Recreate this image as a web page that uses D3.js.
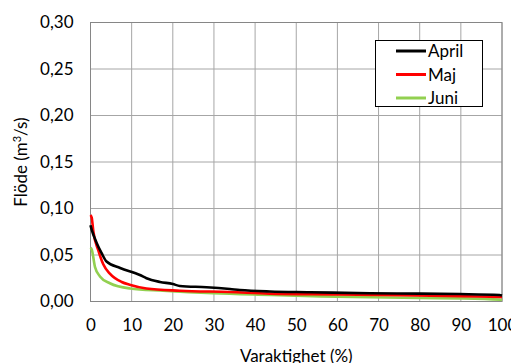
<!DOCTYPE html>
<html>
<head>
<meta charset="utf-8">
<script src="https://cdn.jsdelivr.net/npm/d3@7"></script>
<style>
  html, body { margin: 0; padding: 0; background: #fff; }
  svg { display: block; }
  text { font-family: Lato, "Open Sans", "Liberation Sans", sans-serif; fill: #000; }
</style>
</head>
<body>
<svg id="chart" width="511" height="363"></svg>
<script>
// Duration curves (flow vs. percentage of time exceeded), per month
const aprilPct = [0, 0.3, 1.5, 2.7, 3.9, 7.2, 12, 13.6, 16.9, 20, 21.7, 28.2, 33.9, 36.3, 43.6, 53.3, 67.9, 80, 89.7, 99.4, 100];
const aprilFlow = [0.082, 0.077, 0.063, 0.052, 0.043, 0.036, 0.0285, 0.025, 0.021, 0.0188, 0.0167, 0.0153, 0.0134, 0.0124, 0.0108, 0.0100, 0.0088, 0.0085, 0.008, 0.007, 0.0065];

const majPct = [0, 0.3, 0.7, 1.9, 3.1, 4.7, 7.6, 9.5, 13.6, 21.7, 33.9, 43.6, 60, 75, 86.5, 100];
const majFlow = [0.093, 0.090, 0.075, 0.055, 0.040, 0.030, 0.021, 0.018, 0.014, 0.0116, 0.0102, 0.0085, 0.0077, 0.0068, 0.006, 0.005];

const juniPct = [0, 0.3, 1.1, 2.3, 4.7, 9.6, 17.6, 29.8, 43.6, 56, 67.9, 80, 90, 99.5, 100];
const juniFlow = [0.058, 0.056, 0.037, 0.027, 0.0196, 0.014, 0.0116, 0.0088, 0.007, 0.0055, 0.0045, 0.0038, 0.0034, 0.002, 0.0015];

const seriesNames = ["April", "Maj", "Juni"];
const seriesColors = ["#000000", "#FF0000", "#92D050"];

const xTicks = [0, 10, 20, 30, 40, 50, 60, 70, 80, 90, 100];
const yTicks = [0, 0.05, 0.10, 0.15, 0.20, 0.25, 0.30];

const xTitle = "Varaktighet (%)";

const svg = d3.select("#chart");
const margin = { left: 90.5, right: 9, top: 22.5, bottom: 61.5 };
const W = 511, H = 363;
const FS = "17px";

const x = d3.scaleLinear().domain([0, 100]).range([margin.left, W - margin.right]);
const y = d3.scaleLinear().domain([0, 0.30]).range([H - margin.bottom, margin.top]);

const fmt = v => d3.format(".2f")(v).replace(".", ",");

// gridlines
svg.append("g")
  .selectAll("line")
  .data(yTicks)
  .join("line")
  .attr("x1", x(0)).attr("x2", x(100))
  .attr("y1", d => y(d)).attr("y2", d => y(d))
  .attr("stroke", "#A6A6A6").attr("stroke-width", 1);

svg.append("g")
  .selectAll("line")
  .data(xTicks)
  .join("line")
  .attr("x1", d => x(d)).attr("x2", d => x(d))
  .attr("y1", y(0)).attr("y2", y(0.30))
  .attr("stroke", "#A6A6A6").attr("stroke-width", 1);

// plot frame
svg.append("rect")
  .attr("x", x(0)).attr("y", y(0.30))
  .attr("width", x(100) - x(0)).attr("height", y(0) - y(0.30))
  .attr("fill", "none").attr("stroke", "#868686").attr("stroke-width", 1);

// axes (labels only; lines drawn by the frame)
const yAxis = d3.axisLeft(y).tickValues(yTicks).tickFormat(fmt).tickSize(0).tickPadding(17);
const gy = svg.append("g").attr("transform", `translate(${x(0)},0)`).call(yAxis);
gy.select(".domain").remove();
gy.selectAll("text").style("font-size", FS).style("font-family", "Lato, 'Open Sans', sans-serif");

const xAxis = d3.axisBottom(x).tickValues(xTicks).tickFormat(d3.format("d")).tickSize(0).tickPadding(17);
const gx = svg.append("g").attr("transform", `translate(0,${y(0)})`).call(xAxis);
gx.select(".domain").remove();
gx.selectAll("text").style("font-size", FS).style("font-family", "Lato, 'Open Sans', sans-serif");

// axis titles
svg.append("text")
  .attr("x", (x(0) + x(100)) / 2).attr("y", 361.5)
  .attr("text-anchor", "middle")
  .style("font-size", FS)
  .text(xTitle);

const yt = svg.append("text")
  .attr("transform", `translate(27,${(y(0) + y(0.30)) / 2}) rotate(-90)`)
  .attr("text-anchor", "middle")
  .style("font-size", FS);
yt.append("tspan").text("Flöde (m");
yt.append("tspan").attr("dy", -6).style("font-size", "11px").text("3");
yt.append("tspan").attr("dy", 6).text("/s)");

// curves
const series = [
  { name: seriesNames[0], color: seriesColors[0], pct: aprilPct, flow: aprilFlow },
  { name: seriesNames[1], color: seriesColors[1], pct: majPct, flow: majFlow },
  { name: seriesNames[2], color: seriesColors[2], pct: juniPct, flow: juniFlow }
];

const line = d3.line().x(d => x(d[0])).y(d => y(d[1])).curve(d3.curveMonotoneX);

// green first, then red, then black on top
[2, 1, 0].forEach(i => {
  const s = series[i];
  svg.append("path")
    .datum(s.pct.map((p, k) => [p, s.flow[k]]))
    .attr("d", line)
    .attr("fill", "none")
    .attr("stroke", s.color)
    .attr("stroke-width", 2.6)
    .attr("stroke-linejoin", "round");
});

// legend
const lg = svg.append("g");
lg.append("rect")
  .attr("x", 375.5).attr("y", 40.5).attr("width", 107).attr("height", 66)
  .attr("fill", "#fff").attr("stroke", "#000").attr("stroke-width", 1);

series.forEach((s, i) => {
  const cy = 51 + i * 23.5;
  lg.append("line")
    .attr("x1", 396).attr("x2", 426)
    .attr("y1", cy).attr("y2", cy)
    .attr("stroke", s.color).attr("stroke-width", 3);
  lg.append("text")
    .attr("x", 428).attr("y", cy + 6)
    .style("font-size", FS)
    .text(s.name);
});
</script>
</body>
</html>
